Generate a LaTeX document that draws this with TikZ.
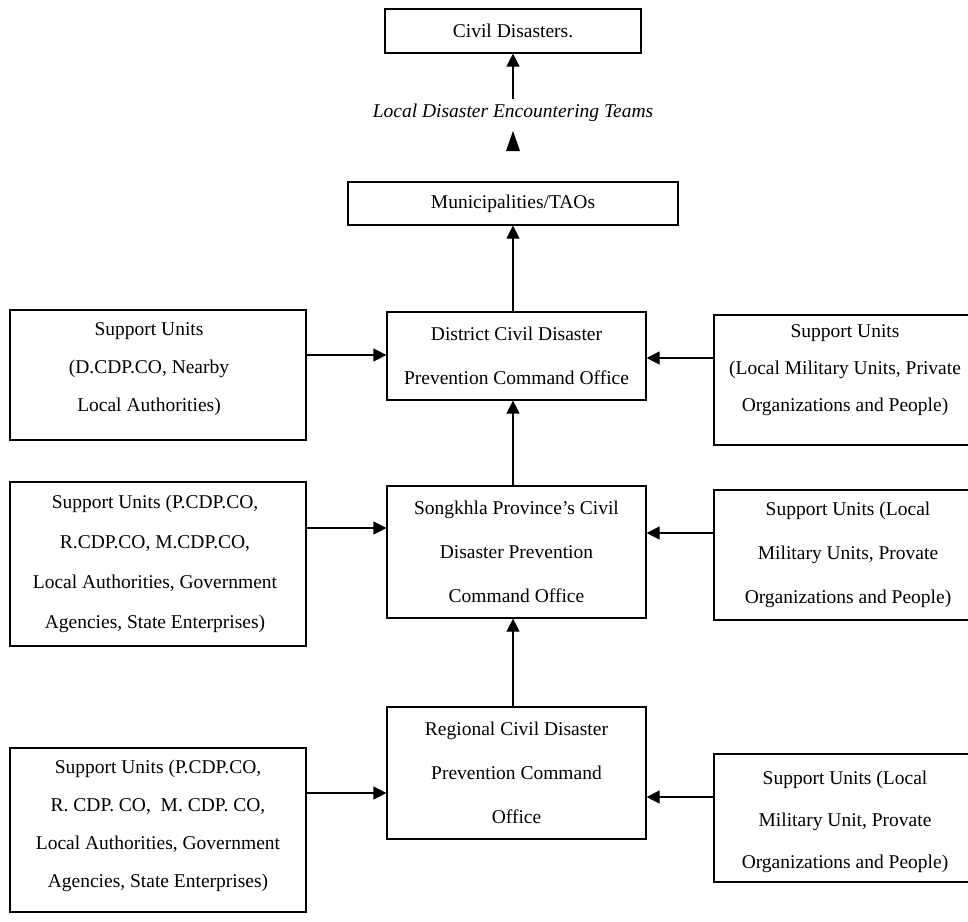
\documentclass[tikz,border=0pt]{standalone}
\usepackage{fontspec}
\setmainfont{Liberation Serif}
\usetikzlibrary{arrows.meta}
\begin{document}
\begin{tikzpicture}[x=1pt,y=-1pt,
  frame/.style={draw, line width=1.2pt, inner sep=0pt},
  txt/.style={inner sep=0pt, align=center},
  sp/.style={font=\fontsize{19.5}{#1}\selectfont},
  link/.style={line width=1.2pt, -{Triangle[length=13pt,width=13pt]}}]
\useasboundingbox (0,0) rectangle (968,921);

% top chain
\node[frame, minimum width=256pt, minimum height=44pt] (civ) at (513,31) {};
\node[txt, sp=24] (civt) at (civ.center) {Civil Disasters.};
\node[font={\fontsize{19.5}{24}\selectfont\itshape}, inner sep=4pt, anchor=base] (teams) at (513,117)
  {Local Disaster Encountering Teams};
\node[frame, minimum width=330pt, minimum height=43pt] (muni) at (513,203.5) {};
\node[txt, sp=24] (munit) at (muni.center) {Municipalities/TAOs};
\coordinate (tip) at (513,131);

% central command offices
\node[frame, minimum width=259pt, minimum height=88pt] (dist) at (516.5,356) {};
\node[txt, sp=44] (distt) at (dist.center)
  {District Civil Disaster\\Prevention Command Office};
\node[frame, minimum width=259pt, minimum height=132pt] (song) at (516.5,552) {};
\node[txt, sp=44] (songt) at (song.center)
  {Songkhla Province's Civil\\Disaster Prevention\\Command Office};
\node[frame, minimum width=259pt, minimum height=132pt] (reg) at (516.5,773) {};
\node[txt, sp=44] (regt) at (reg.center)
  {Regional Civil Disaster\\Prevention Command\\Office};

% support units, left
\node[frame, minimum width=296pt, minimum height=130pt] (l1) at (158,375) {};
\node[txt, sp=38] (l1t) at ([xshift=-9pt,yshift=6pt]l1.center)
  {Support Units\\(D.CDP.CO, Nearby\\Local Authorities)};
\node[frame, minimum width=296pt, minimum height=164pt] (l2) at (158,564) {};
\node[txt, sp=40] (l2t) at ([xshift=-3pt]l2.center)
  {Support Units (P.CDP.CO,\\R.CDP.CO, M.CDP.CO,\\Local Authorities, Government\\Agencies, State Enterprises)};
\node[frame, minimum width=296pt, minimum height=164pt] (l3) at (158,830) {};
\node[txt, sp=38] (l3t) at ([yshift=4pt]l3.center)
  {Support Units (P.CDP.CO,\\R. CDP. CO,\ \ M. CDP. CO,\\Local Authorities, Government\\Agencies, State Enterprises)};

% support units, right (running past the right edge)
\node[frame, minimum width=262pt, minimum height=130pt] (r1) at (845,380) {};
\node[txt, sp=37] (r1t) at ([yshift=10pt]r1.center)
  {Support Units\\(Local Military Units, Private\\Organizations and People)};
\node[frame, minimum width=262pt, minimum height=130pt] (r2) at (845,555) {};
\node[txt, sp=44] (r2t) at ([xshift=3pt]r2.center)
  {Support Units (Local\\Military Units, Provate\\Organizations and People)};
\node[frame, minimum width=262pt, minimum height=128pt] (r3) at (845,818) {};
\node[txt, sp=42] (r3t) at ([yshift=-4pt]r3.center)
  {Support Units (Local\\Military Unit, Provate\\Organizations and People)};

% vertical links
\draw[link] (teams.north -| tip) -- (civ.south -| tip);
\fill (tip) -- ++(7,20) -- ++(-14,0) -- cycle;
\draw[link] (dist.north -| tip) -- (muni.south -| tip);
\draw[link] (song.north -| tip) -- (dist.south -| tip);
\draw[link] (reg.north -| tip) -- (song.south -| tip);

% horizontal links
\draw[link] (l1.east |- 0,355) -- (dist.west |- 0,355);
\draw[link] (r1.west |- 0,358) -- (dist.east |- 0,358);
\draw[link] (l2.east |- 0,528) -- (song.west |- 0,528);
\draw[link] (r2.west |- 0,533) -- (song.east |- 0,533);
\draw[link] (l3.east |- 0,793) -- (reg.west |- 0,793);
\draw[link] (r3.west |- 0,797) -- (reg.east |- 0,797);
\end{tikzpicture}
\end{document}
